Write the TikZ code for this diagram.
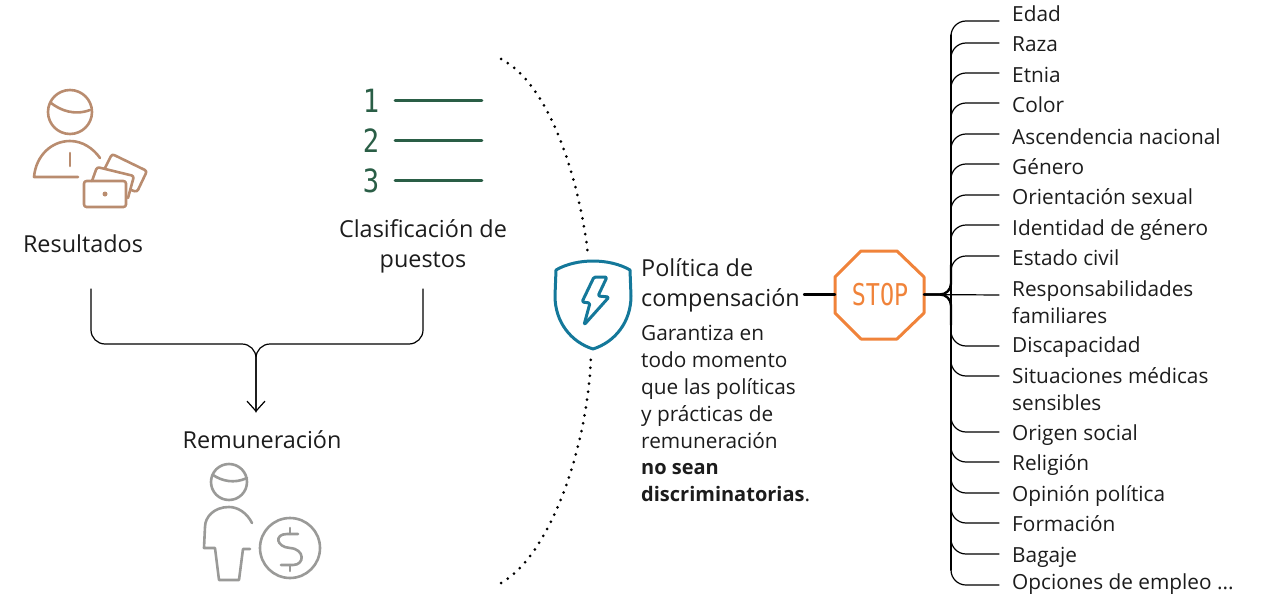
\documentclass[tikz,border=0pt]{standalone}
\usepackage{fontspec}
\setmainfont{Open Sans}
\newfontfamily\stopfont{DejaVu Sans Mono}
\usetikzlibrary{arrows.meta}

\definecolor{resbrown}{HTML}{B98C6F}
\definecolor{listgreen}{HTML}{2A5E46}
\definecolor{shieldblue}{HTML}{14789A}
\definecolor{stoporange}{HTML}{F0833A}
\definecolor{icongray}{HTML}{9A9A98}
\definecolor{inkblack}{HTML}{1C1C1C}
\newcommand{\strongword}[1]{{\fontsize{20}{26.8}\selectfont\bfseries #1}}

\begin{document}
\begin{tikzpicture}[x=1pt,y=-1pt,
    line join=round,line cap=round,
    label node/.style={font=\fontsize{23.4}{30}\selectfont,text=inkblack,inner sep=0pt,align=center},
    text node/.style={label node,align=left,anchor=west},
    item node/.style={font=\fontsize{20.8}{26.8}\selectfont,text=inkblack,inner sep=0pt,align=left,anchor=base west},
    long node/.style={item node,anchor=west},
    bracket/.style={draw=black,line width=1.2pt,rounded corners=14pt},
    branch/.style={draw=black,line width=1.2pt,rounded corners=15pt},
    heavy/.style={draw=black,line width=2.4pt},
    brownline/.style={draw=resbrown,line width=2.6pt},
    grayline/.style={draw=icongray,line width=2.6pt},
    rankline/.style={draw=listgreen,line width=2.6pt},
    ranknum/.style={font=\stopfont\fontsize{32}{32}\selectfont,text=listgreen,inner sep=0pt},
    dotline/.style={draw=black,line width=3pt,dash pattern=on 0pt off 8pt}]
  \useasboundingbox (0,0) rectangle (1264,594);

  % resultados icon
  \draw[brownline] (70,112) circle (22);
  \draw[brownline] (51,103) .. controls (60,110) and (74,116) .. (90,110);
  \draw[brownline] (78,177) -- (34,177) .. controls (36,155) and (52,141) .. (70,141) .. controls (82,141) and (93,148) .. (100,158);
  \draw[brownline] (70,153) -- (70,166);
  \draw[brownline,rounded corners=2.5pt] (84,181) rectangle (126,207);
  \draw[brownline,rounded corners=2.5pt] (92,181) -- (97,167) -- (134,176) -- (128,198);
  \draw[brownline,rounded corners=2.5pt] (105,168) -- (112,154) -- (147,171) -- (137,192) -- (131,190);
  \fill[resbrown] (105,194) circle (2.5);
  \node[label node] (res) at (83,244) {Resultados};

  % ranking
  \foreach \num/\y in {1/101,2/141,3/181} {
    \node[ranknum] (num\num) at (371,\y) {\scalebox{0.85}[1]{\num}};
    \coordinate (rank\num) at (482,\y-0.5);
    \draw[rankline] (395,\y-0.5) -- (rank\num);
  }
  \node[label node] (clas) at (423,246) {Clasificación de\\puestos};

  % bracket
  \coordinate (resout) at (91,289);
  \coordinate (clasout) at (423,289);
  \coordinate (merge) at (256,344);
  \coordinate (payin) at (256,412);
  \draw[bracket,-{Straight Barb[length=10pt,width=18pt]}] (resout) |- (merge) -- (payin);
  \draw[bracket] (clasout) |- (merge) -- (payin);
  \node[label node] (rem) at (262,440) {Remuneración};

  % remuneracion icon
  \draw[grayline] (229,482) circle (18);
  \draw[grayline] (213,475) .. controls (222,481) and (234,484) .. (247,478);
  \draw[grayline] (252,523) .. controls (247,513) and (238,507) .. (229,507) .. controls (214,507) and (205,517) .. (205,527) -- (204,548) -- (215,548) -- (219,580) -- (239,580) -- (243,549) -- (250,549);
  \draw[grayline] (290,548) circle (30);
  \draw[grayline] (298,534) -- (287,534) .. controls (274,534) and (276,547) .. (290,548) .. controls (305,549) and (305,565) .. (293,565) -- (281,565);
  \draw[grayline] (290,528) -- (290,534);
  \draw[grayline] (290,565) -- (290,571);

  % shield
  \draw[draw=shieldblue,line width=3pt] (556,270) .. controls (566,264) and (580,261) .. (593,261) .. controls (606,261) and (620,264) .. (630,270) -- (631,296) .. controls (631,322) and (615,342) .. (593,349) .. controls (571,342) and (555,322) .. (555,296) -- cycle;
  \draw[draw=shieldblue,line width=3pt,rounded corners=1.5pt] (594,277) -- (607,277) -- (598,296) -- (609,297) -- (584,325) -- (590,303) -- (582,302) -- cycle;
  \coordinate (arctop) at (501,59);
  \coordinate (shieldtop) at (588,255);
  \coordinate (shieldbottom) at (591,353);
  \coordinate (arcbottom) at (501,583);
  \draw[dotline] (arctop) .. controls (553,86) and (581,190) .. (shieldtop);
  \draw[dotline] (arcbottom) .. controls (551,555) and (589,443) .. (shieldbottom);

  % politica
  \node[text node] (pol) at (641,285) {Política de\\compensación};
  \node[long node,anchor=north west] (gar) at (641,325.5) {Garantiza en\\todo momento\\que las políticas\\y prácticas de\\remuneración\\\strongword{no sean}\\\strongword{discriminatorias}.};

  % stop
  \node[inner sep=0pt,text=stoporange,font=\stopfont\fontsize{30}{30}\selectfont] (stop) at (880,295) {\scalebox{0.78}[1]{STOP}};
  \coordinate (stopwest) at (835,294.5);
  \coordinate (stopeast) at (924,294.5);
  \draw[draw=stoporange,line width=3pt] (861,251) -- (897,251) -- (924,277) -- (924,313) -- (897,339) -- (861,339) -- (835,313) -- (835,277) -- cycle;
  \draw[heavy,shorten >=4pt] (stopwest) -- (stopwest -| pol.east);

  % tree
  \coordinate (bustop) at (951,35);
  \coordinate (busbottom) at (951,570);
  \draw[draw=black,line width=1.6pt] (bustop) -- (busbottom);
  \draw[heavy,rounded corners=11pt] (stopeast) -| (951,265);
  \draw[heavy,rounded corners=11pt] (stopeast) -| (951,325);
  \foreach \i/\lab/\ty/\ly/\dy in {
      1/Edad/22/21/20,2/Raza/52/43/20,3/Etnia/83/73/20,4/Color/113/103/20,
      5/Ascendencia nacional/144/134/20,6/Género/174/164/20,7/Orientación sexual/204/195/20,
      8/Identidad de género/235/225/20,9/Estado civil/265/256/20,
      11/Discapacidad/352/346/-20,
      13/Origen social/440/432/-20,14/Religión/470/462/-20,15/Opinión política/501/493/-20,
      16/Formación/531/523/-20,17/Bagaje/562/554/-20} {
    \node[item node] (item\i) at (1012,\ty) {\lab};
    \coordinate (end\i) at (999,\ly);
    \draw[branch] (951,\ly+\dy) |- (end\i);
  }
  \node[long node] (item10) at (1012,302) {Responsabilidades\\familiares};
  \coordinate (end10) at (999,295);
  \draw[draw=black,line width=1.2pt] (stopeast) -- (end10);
  \node[long node] (item12) at (1012,389.5) {Situaciones médicas\\sensibles};
  \coordinate (end12) at (999,376);
  \draw[branch] (951,356) |- (end12);
  \node[item node] (item18) at (1012,589) {Opciones de empleo ...};
  \coordinate (end18) at (999,585);
  \draw[branch] (951,565) |- (end18);
\end{tikzpicture}
\end{document}
